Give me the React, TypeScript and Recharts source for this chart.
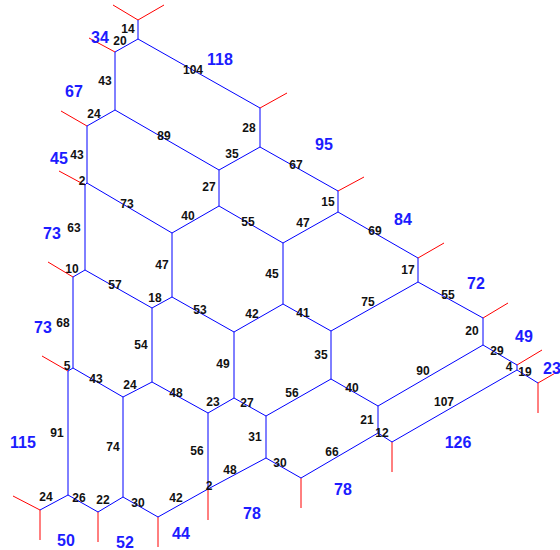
import { ScatterChart, Scatter, XAxis, YAxis, ReferenceLine } from 'recharts'

// junctions of the network, in drawing units (x to the right, y downwards)
const junctions: [string, number, number][] = [
  ['a', 138, 20], ['b', 138, 39], ['c', 115, 52], ['d', 115, 110], ['e', 87, 126],
  ['f', 260, 108], ['g', 260, 147], ['h', 219, 170], ['k', 219, 206],
  ['i', 87, 183], ['i2', 85, 185], ['j', 172, 233], ['l', 85, 270], ['m', 73, 277],
  ['n', 152, 308], ['o', 172, 297], ['p', 234, 332], ['q', 283, 304], ['qq', 283, 243],
  ['r0', 338, 191], ['r1', 338, 212], ['r', 331, 331], ['s', 331, 379],
  ['t', 234, 398], ['u', 266, 416], ['v', 378, 406], ['v2', 378, 433],
  ['w0', 418, 258], ['w', 418, 282], ['w1', 483, 318], ['w2', 483, 345],
  ['w3', 517, 365], ['w4', 517, 370], ['w5', 538, 383],
  ['x', 152, 382], ['y', 208, 413], ['z', 123, 397], ['m2', 73, 368], ['m3', 68, 371],
  ['bl0', 40, 510], ['bl1', 68, 495], ['bl2', 98, 512], ['bl3', 123, 497],
  ['bl4', 158, 517], ['bl5', 208, 489], ['bl6', 266, 458], ['bl7', 301, 478], ['bl8', 392, 442],
]

// open ends of the boundary stubs
const stubEnds: [string, number, number][] = [
  ['a1', 113, 5], ['a2', 164, 5], ['c1', 89, 38], ['e1', 61, 111], ['i1', 59, 171],
  ['m1', 48, 262], ['m31', 42, 356], ['bl01', 13, 496], ['bl02', 40, 540],
  ['bl21', 98, 542], ['bl41', 158, 547], ['bl51', 208, 520], ['bl71', 301, 508],
  ['bl81', 392, 472], ['w51', 538, 413], ['w52', 564, 368], ['w31', 542, 350],
  ['w11', 508, 303], ['w01', 444, 243], ['r01', 364, 177], ['f1', 287, 93],
]

const pipes: [string, string][] = [
  ['a', 'b'], ['b', 'c'], ['c', 'd'], ['d', 'e'], ['b', 'f'], ['f', 'g'], ['d', 'h'], ['g', 'h'],
  ['e', 'i'], ['i', 'i2'], ['i', 'j'], ['h', 'k'], ['k', 'j'], ['g', 'r0'], ['r0', 'r1'],
  ['r1', 'qq'], ['k', 'qq'], ['i2', 'l'], ['l', 'm'], ['l', 'n'], ['j', 'o'], ['n', 'o'],
  ['r1', 'w0'], ['w0', 'w'], ['qq', 'q'], ['o', 'p'], ['p', 'q'], ['q', 'r'], ['w', 'r'],
  ['w', 'w1'], ['m', 'm2'], ['n', 'x'], ['w1', 'w2'], ['r', 's'], ['w2', 'w3'], ['m2', 'z'],
  ['m2', 'm3'], ['p', 't'], ['z', 'x'], ['x', 'y'], ['s', 'u'], ['s', 'v'], ['w2', 'v'],
  ['w3', 'w4'], ['w4', 'w5'], ['y', 't'], ['t', 'u'], ['w4', 'bl8'], ['v', 'v2'], ['v2', 'bl8'],
  ['m3', 'bl1'], ['z', 'bl3'], ['u', 'bl6'], ['y', 'bl5'], ['bl5', 'bl6'], ['v2', 'bl7'],
  ['bl6', 'bl7'], ['bl0', 'bl1'], ['bl1', 'bl2'], ['bl2', 'bl3'], ['bl3', 'bl4'], ['bl4', 'bl5'],
]

const stubs: [string, string][] = [
  ['a', 'a1'], ['a', 'a2'], ['c', 'c1'], ['e', 'e1'], ['i2', 'i1'], ['m', 'm1'], ['m3', 'm31'],
  ['bl0', 'bl01'], ['bl0', 'bl02'], ['bl2', 'bl21'], ['bl4', 'bl41'], ['bl5', 'bl51'],
  ['bl7', 'bl71'], ['bl8', 'bl81'], ['w5', 'w51'], ['w5', 'w52'], ['w3', 'w31'],
  ['w1', 'w11'], ['w0', 'w01'], ['r0', 'r01'], ['f', 'f1'],
]

// pipe values
const pipeLabels: [string, number, number][] = [
  ['14', 128, 29], ['20', 120, 41], ['104', 193, 70], ['43', 105, 81], ['24', 94, 114],
  ['89', 164, 136], ['28', 249, 128], ['35', 232, 154], ['67', 296, 165], ['43', 77, 155],
  ['2', 82, 181], ['27', 209, 187], ['15', 328, 202], ['73', 127, 204], ['40', 188, 216],
  ['55', 248, 222], ['47', 303, 223], ['69', 375, 231], ['63', 74, 228], ['17', 408, 270],
  ['10', 72, 269], ['57', 115, 285], ['47', 162, 265], ['18', 155, 298], ['45', 272, 274],
  ['55', 448, 295], ['53', 200, 310], ['42', 252, 314], ['41', 303, 313], ['75', 368, 302],
  ['68', 63, 323], ['54', 141, 345], ['20', 472, 331], ['35', 321, 355], ['29', 497, 351],
  ['5', 67, 366], ['43', 96, 379], ['49', 223, 364], ['24', 130, 385], ['48', 176, 393],
  ['56', 292, 393], ['40', 352, 388], ['90', 423, 371], ['4', 509, 367], ['19', 525, 372],
  ['23', 213, 402], ['27', 247, 403], ['107', 444, 402], ['21', 367, 420], ['12', 382, 433],
  ['91', 57, 433], ['74', 113, 447], ['31', 255, 437], ['56', 197, 451], ['48', 230, 470],
  ['66', 332, 452], ['30', 280, 463], ['2', 209, 486], ['24', 46, 497], ['26', 79, 498],
  ['22', 103, 500], ['30', 138, 503], ['42', 176, 498],
]

// cell totals
const cellLabels: [string, number, number][] = [
  ['34', 100, 37], ['118', 220, 59], ['67', 74, 91], ['95', 324, 144], ['45', 59, 158],
  ['84', 403, 219], ['73', 52, 233], ['72', 476, 283], ['73', 43, 327], ['49', 524, 336],
  ['23', 552, 368], ['115', 23, 442], ['126', 458, 442], ['78', 343, 489], ['78', 252, 513],
  ['44', 181, 533], ['50', 66, 540], ['52', 125, 542],
]

const pos: Record<string, { x: number; y: number }> = {}
for (const [id, x, y] of [...junctions, ...stubEnds]) pos[id] = { x, y }

const pipeData = pipeLabels.map(([t, x, y]) => ({ t, x, y }))
const cellData = cellLabels.map(([t, x, y]) => ({ t, x, y }))

const font = '"Liberation Sans", Arial, sans-serif'

const PipeText = (props: any) => (
  <text x={props.cx} y={props.cy} textAnchor="middle" dominantBaseline="central"
    fontFamily={font} fontWeight="bold" fontSize={12} fill="#111">
    {props.payload.t}
  </text>
)

const CellText = (props: any) => (
  <text x={props.cx} y={props.cy} textAnchor="middle" dominantBaseline="central"
    fontFamily={font} fontWeight="bold" fontSize={16} fill="#1c1cff">
    {props.payload.t}
  </text>
)

export default function App() {
  return (
    <div style={{ position: 'absolute', left: 0, top: 0, width: 560, height: 550, background: '#fff' }}>
      <ScatterChart width={560} height={550} margin={{ top: 0, right: 0, bottom: 0, left: 0 }}>
        <XAxis type="number" dataKey="x" domain={[0, 560]} hide allowDataOverflow />
        <YAxis type="number" dataKey="y" domain={[0, 550]} reversed hide allowDataOverflow />
        {stubs.map(([p1, p2], i) => (
          <ReferenceLine key={'s' + i} segment={[pos[p1], pos[p2]]} stroke="#ff0000" strokeWidth={1} ifOverflow="visible" />
        ))}
        {pipes.map(([p1, p2], i) => (
          <ReferenceLine key={'p' + i} segment={[pos[p1], pos[p2]]} stroke="#0000ff" strokeWidth={1} ifOverflow="visible" />
        ))}
        <Scatter data={pipeData} shape={PipeText} isAnimationActive={false} />
        <Scatter data={cellData} shape={CellText} isAnimationActive={false} />
      </ScatterChart>
    </div>
  )
}
